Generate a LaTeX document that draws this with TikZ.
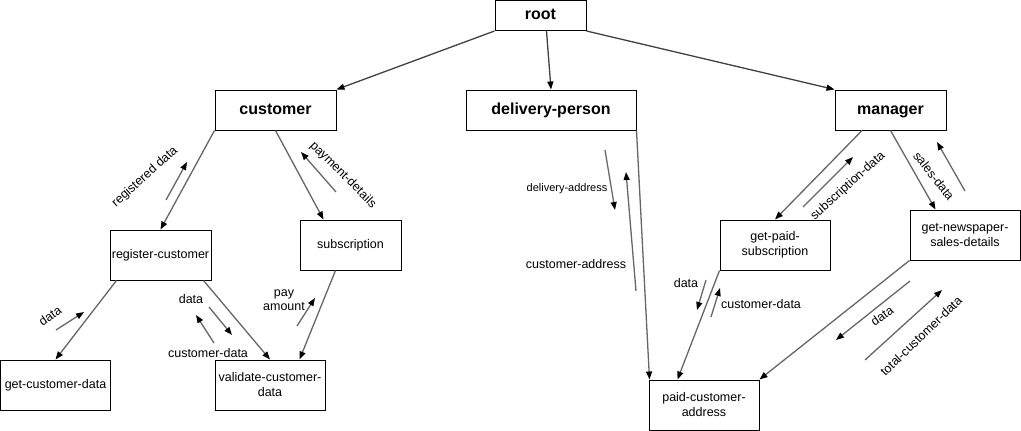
\documentclass[tikz,border=0pt]{standalone}
\usepackage{fontspec}
\setmainfont{Liberation Sans}
\usetikzlibrary{arrows.meta}

\tikzset{
  box/.style={draw, line width=1pt, inner sep=0pt, align=center,
    font=\fontsize{12.5}{15}\selectfont},
  onebox/.style={box, text height=9pt, text depth=2.5pt},
  topbox/.style={box, text height=11.5pt, text depth=3.5pt, font=\fontsize{16}{18}\bfseries},
  link/.style={draw=black!60, line width=1.3pt,
    -{Triangle[length=8pt,width=6pt,color=black]}},
  tree/.style={link, draw=black!75},
  msg/.style={link},
  lbl/.style={font=\fontsize{12.5}{14}\selectfont, inner sep=0pt, align=center},
}

\begin{document}
\begin{tikzpicture}[x=1pt,y=-1pt]
				\useasboundingbox (0,0) rectangle (1021,431);
				% boxes
				\node[topbox, minimum width=91, minimum height=30] (root) at (540.5,15.5) {root};
				\node[topbox, minimum width=121, minimum height=40] (customer) at (275.5,110) {customer};
				\node[topbox, minimum width=170, minimum height=40] (delivery) at (551,110) {delivery-person};
				\node[topbox, minimum width=111, minimum height=40] (manager) at (890.5,110) {manager};
				\node[onebox, minimum width=101, minimum height=50] (register) at (160.5,255) {register-customer};
				\node[onebox, minimum width=101, minimum height=50] (subscription) at (350.5,245) {subscription};
				\node[onebox, minimum width=110, minimum height=50] (getcust) at (55.5,385) {get-customer-data};
				\node[box, minimum width=110, minimum height=50] (validate) at (270,385) {validate-customer-\\data};
				\node[box, minimum width=110, minimum height=50] (getpaid) at (775,245) {get-paid-\\subscription};
				\node[box, minimum width=110, minimum height=50] (getsales) at (965,235) {get-newspaper-\\sales-details};
				\node[box, minimum width=110, minimum height=50] (paidaddr) at (704,405) {paid-customer-\\address};
				% tree links
				\draw[tree] (root.south west) -- (customer.north east);
				\draw[tree] ([xshift=6pt]root.south) -- (delivery.north);
				\draw[tree] (root.south east) -- (manager.north west);
				\draw[link] (customer.south west) -- (register.north);
				\draw[link] (customer.south) -- ([xshift=24pt]subscription.north west);
				\draw[link] ([xshift=7pt]register.south west) -- (getcust.north);
				\draw[link] ([xshift=-8pt]register.south east) -- (validate.north);
				\draw[link] ([xshift=-15pt]subscription.south) -- ([xshift=-26pt]validate.north east);
				\draw[link] (delivery.south east) -- ([xshift=1pt]paidaddr.north west);
				\draw[link] ([xshift=-28.5pt]manager.south) -- (getpaid.north);
				\draw[link] (manager.south) -- ([xshift=26pt]getsales.north west);
				\draw[link] (getpaid.south west) -- ([xshift=29pt]paidaddr.north west);
				\draw[link] (getsales.south west) -- (paidaddr.north east);
				% data flow arrows
				\foreach \nm/\s/\e in {regdata/{166,200}/{187,162}, paydet/{336,192}/{301,152},
				    dataA/{56,330}/{84,312}, dataB/{209,307}/{232,335}, custA/{214,343}/{196,315},
				    payamt/{297,326}/{315,298}, deladdr/{605,150}/{615,210}, custaddr/{636,291}/{626,172},
				    subdata/{803,207}/{853,157}, salesdata/{965,191}/{937,142}, dataC/{706,280}/{697,310},
				    custB/{711,317}/{720,288}, dataD/{910,281}/{836,340}, totdata/{865,360}/{942,290}}
				  \draw[msg] (\s) coordinate (\nm-a) -- (\e) coordinate (\nm-b);
				% labels
				\node[lbl, rotate=42] (l-regdata) at (145,177) {registered data};
				\node[lbl, rotate=-45] (l-paydet) at (343,175) {payment-details};
				\node[lbl, rotate=35] (l-dataA) at (50,316) {data};
				\node[lbl] (l-dataB) at (191,299) {data};
				\node[lbl] (l-custA) at (208,353) {customer-data};
				\node[lbl] (l-payamt) at (284,300) {pay\\amount};
				\node[lbl, font=\fontsize{11}{13}\selectfont] (l-deladdr) at (567,189) {delivery-address};
				\node[lbl] (l-custaddr) at (576,264) {customer-address};
				\node[lbl, rotate=42] (l-subdata) at (848,186) {subscription-data};
				\node[lbl, rotate=-52] (l-salesdata) at (934,176) {sales-data};
				\node[lbl] (l-dataC) at (686,283) {data};
				\node[lbl] (l-custB) at (761,304) {customer-data};
				\node[lbl, rotate=35] (l-dataD) at (882,316) {data};
				\node[lbl, rotate=44] (l-totdata) at (921,336) {total-customer-data};
			\end{tikzpicture}
\end{document}
